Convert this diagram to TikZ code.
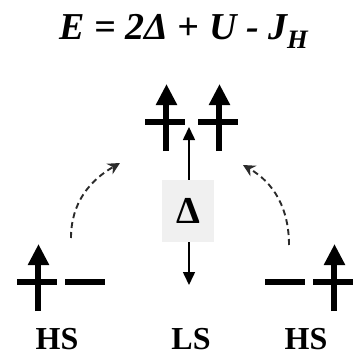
\documentclass[tikz,border=0pt]{standalone}
\usepackage{fontspec}
\setmainfont{Liberation Serif}
\usetikzlibrary{arrows.meta, positioning, calc}
\definecolor{ink}{HTML}{000000}
\definecolor{dashink}{HTML}{2B2B2B}
\definecolor{panel}{HTML}{F0F0F0}
\tikzset{
  orb/.style    ={fill=ink, inner sep=0pt, minimum width=40pt, minimum height=5.5pt},
  spin/.style   ={-{Triangle[length=21pt,width=20pt]}, line width=6pt, draw=ink},
  gap/.style    ={-{Triangle[length=13pt,width=12pt]}, line width=1.6pt, draw=ink},
  hop/.style    ={-{Stealth[length=12pt,width=12pt]}, line width=1.9pt, draw=dashink,
                  dash pattern=on 6pt off 4pt},
  state/.style  ={font=\fontsize{32}{36}\selectfont\bfseries, inner sep=0pt, anchor=base},
  gapbox/.style ={fill=panel, minimum width=52pt, minimum height=62pt, inner sep=0pt,
                  font=\fontsize{38}{42}\selectfont\bfseries}
}
% up spin on an orbital
\newcommand{\spinon}[1]{\draw[spin] ($(#1)+(1.5,-29)$) -- ($(#1)+(1.5,38)$);}

\begin{document}
\begin{tikzpicture}[x=1pt, y=1pt]
  \useasboundingbox (0,0) rectangle (358,360);

  \node[font=\fontsize{38}{42}\selectfont\bfseries\itshape, inner sep=0pt, anchor=base]
       (energy) at (184,320) {E = 2Δ + U - J\textsubscript{H}};

  % low spin pair
  \node[orb] (lsA) at (165,238) {};
  \node[orb] (lsB) at (218,238) {};
  \spinon{lsA}
  \spinon{lsB}

  % high spin, left and right
  \node[orb] (hlA) at (37,78) {};
  \node[orb] (hlB) at (85,78) {};
  \spinon{hlA}
  \node[orb] (hrA) at (285,78) {};
  \node[orb] (hrB) at (333,78) {};
  \spinon{hrB}

  \node[gapbox] (delta) at (188,149) {Δ};
  \coordinate (gapTop) at (189,233);
  \coordinate (gapBot) at (189,75);
  \draw[gap] (delta.north -| gapTop) -- (gapTop);
  \draw[gap] (delta.south -| gapBot) -- (gapBot);

  \coordinate (hlOut) at (71,122);
  \coordinate (hlIn)  at (120,197);
  \coordinate (hrOut) at (289,115);
  \coordinate (hrIn)  at (243,195);
  \draw[hop] (hlOut) to[out=90, in=210] (hlIn);
  \draw[hop] (hrOut) to[out=90, in=-30] (hrIn);

  \node[state] (hsL) at (57,10)  {HS};
  \node[state] (lsL) at (191,10) {LS};
  \node[state] (hsR) at (306,10) {HS};
\end{tikzpicture}
\end{document}
